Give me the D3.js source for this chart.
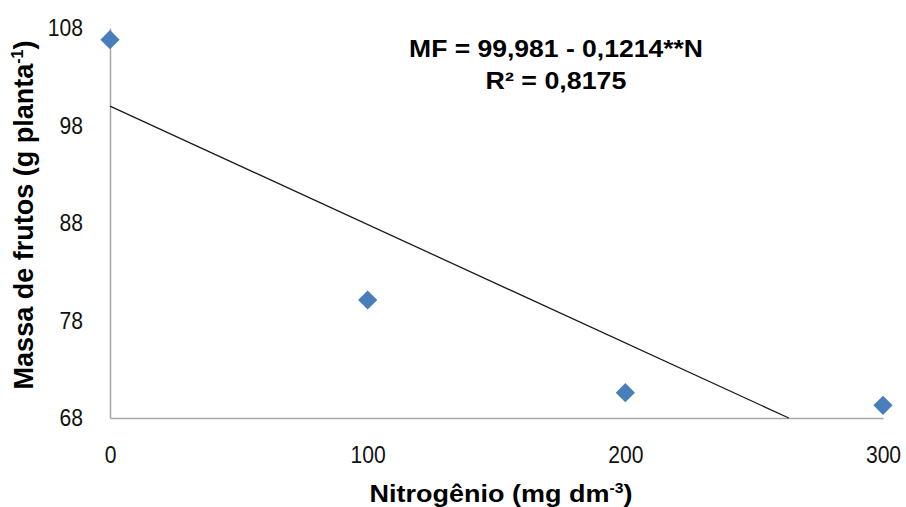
<!DOCTYPE html>
<html><head><meta charset="utf-8">
<script src="https://cdn.jsdelivr.net/npm/d3@7"></script>
<style>body{margin:0;background:#fff}svg{display:block}</style>
</head><body>
<svg id="c" width="906" height="507"></svg>
<script>
const nitrogen = [0, 100, 200, 300];
const mass = [106.8, 80.1, 70.6, 69.3];
const xTicks = [0, 100, 200, 300];
const yTicks = [68, 78, 88, 98, 108];
const intercept = 99.981, slope = -0.1214;
const eqLines = ["MF = 99,981 - 0,1214**N", "R² = 0,8175"];

const svg = d3.select("#c");
const x = d3.scaleLinear().domain([0, 300]).range([110, 883]);
const y = d3.scaleLinear().domain([68, 108]).range([418, 28]);
const sans = "'Liberation Sans',Arial,sans-serif";
const tickScale = 0.88;

// stretch a text horizontally around its centre to a target width
function fitWidth(sel, target, cx) {
  const w = sel.node().getBBox().width;
  const k = target / w;
  sel.attr("transform", `translate(${cx},0) scale(${k},1) translate(${-cx},0)`);
}

// axes
const gx = svg.append("g").attr("transform", `translate(0,${y(68)})`)
  .call(d3.axisBottom(x).tickValues(xTicks).tickSize(0).tickPadding(28).tickFormat(d3.format("d")));
const gy = svg.append("g").attr("transform", `translate(${x(0)},0)`)
  .call(d3.axisLeft(y).tickValues(yTicks).tickSize(0).tickPadding(27).tickFormat(d3.format("d")));
[gx, gy].forEach(g => {
  g.select(".domain").attr("stroke", "#a6a6a6").attr("stroke-width", 1.5);
  g.selectAll("text").attr("font-family", sans).attr("font-size", 24).attr("fill", "#111")
    .attr("transform", `scale(${tickScale},1)`);
});
gy.selectAll("text").attr("x", -27 / tickScale);

// regression line, clipped at y=68
const nEnd = (68 - intercept) / slope;
svg.append("line")
  .attr("x1", x(0)).attr("y1", y(intercept))
  .attr("x2", x(nEnd)).attr("y2", y(68))
  .attr("stroke", "#1a1a1a").attr("stroke-width", 1.3);

// points
svg.append("g").selectAll("path").data(nitrogen.map((n, i) => [n, mass[i]]))
  .join("path")
  .attr("transform", d => `translate(${x(d[0])},${y(d[1])})`)
  .attr("d", d3.symbol().type(d3.symbolDiamond2).size(235))
  .attr("fill", "#4a7ebb");

// equation
const eqW = [294, 141];
eqLines.forEach((t, i) => {
  const e = svg.append("text")
    .attr("x", 556).attr("y", 57 + i * 32)
    .attr("text-anchor", "middle")
    .attr("font-family", sans)
    .attr("font-weight", "bold").attr("font-size", 24).attr("fill", "#000")
    .text(t);
  fitWidth(e, eqW[i], 556);
});

// axis titles
const xt = svg.append("text").attr("x", 501).attr("y", 502).attr("text-anchor", "middle")
  .attr("font-family", sans).attr("font-weight", "bold").attr("font-size", 24);
xt.append("tspan").text("Nitrogênio (mg dm");
xt.append("tspan").attr("font-size", 14).attr("dy", -9).text("-3");
xt.append("tspan").attr("dy", 9).text(")");
fitWidth(xt, 263, 501);

const yt = svg.append("text").attr("transform", "translate(33,215) rotate(-90)").attr("text-anchor", "middle")
  .attr("font-family", sans).attr("font-weight", "bold").attr("font-size", 27);
yt.append("tspan").text("Massa de frutos (g planta");
yt.append("tspan").attr("font-size", 16).attr("dy", -10).text("-1");
yt.append("tspan").attr("dy", 10).text(")");
</script>
</body></html>
